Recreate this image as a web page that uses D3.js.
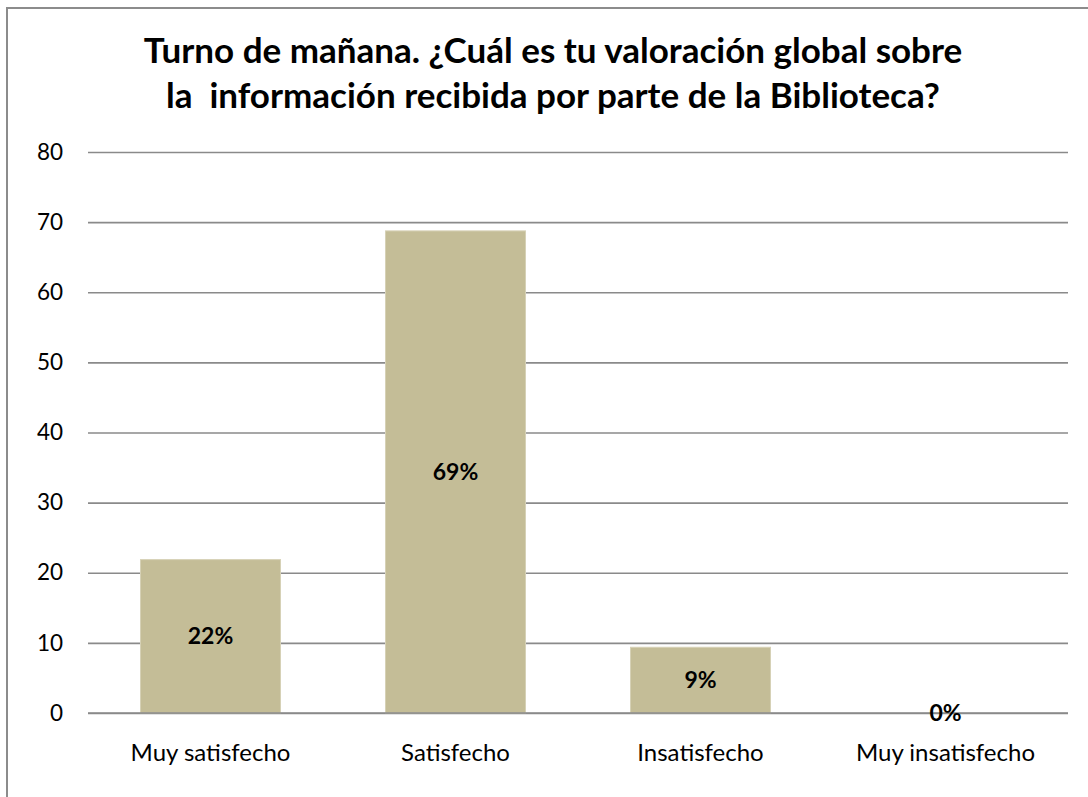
<!DOCTYPE html>
<html>
<head>
<meta charset="utf-8">
<script src="https://cdn.jsdelivr.net/npm/d3@7"></script>
<style>
  html, body { margin: 0; padding: 0; background: #fff; }
  svg { display: block; }
</style>
</head>
<body>
<svg id="chart" width="1088" height="797"></svg>
<script>
// Survey answers (percentage of respondents per option)
const categories = ["Muy satisfecho", "Satisfecho", "Insatisfecho", "Muy insatisfecho"];
const values = [21.875, 68.75, 9.375, 0];
const valueLabels = ["22%", "69%", "9%", "0%"];
const yTicks = [0, 10, 20, 30, 40, 50, 60, 70, 80];
const titleLines = [
  "Turno de mañana. ¿Cuál es tu valoración global sobre",
  "la  información recibida por parte de la Biblioteca?"
];

const svg = d3.select("#chart");
const font = "Lato, 'Open Sans', sans-serif";

// Outer frame of the chart area
svg.append("rect")
  .attr("x", 7).attr("y", 8)
  .attr("width", 1200).attr("height", 1000)
  .attr("fill", "#fff")
  .attr("stroke", "#8c8c8c")
  .attr("stroke-width", 2);

const plot = { left: 88, right: 1068, top: 152, bottom: 713 };

const x = d3.scaleBand()
  .domain(categories)
  .range([plot.left, plot.right])
  .paddingInner(0.4286)
  .paddingOuter(0.2143);

const y = d3.scaleLinear()
  .domain([0, 80])
  .range([plot.bottom, plot.top]);

// Title
const title = svg.append("g")
  .attr("font-family", font)
  .attr("font-weight", "bold")
  .attr("font-size", 35)
  .attr("fill", "#000")
  .attr("text-anchor", "middle");
title.selectAll("text")
  .data(titleLines)
  .join("text")
  .attr("x", 553)
  .attr("y", (d, i) => 63 + i * 45)
  .attr("xml:space", "preserve")
  .style("white-space", "pre")
  .text(d => d);

// Horizontal gridlines via the y axis
const yAxis = d3.axisLeft(y)
  .tickValues(yTicks)
  .tickSize(-(plot.right - plot.left))
  .tickPadding(25)
  .tickFormat(d3.format("d"));

const gy = svg.append("g")
  .attr("transform", `translate(${plot.left},0)`)
  .call(yAxis);
gy.select(".domain").remove();
gy.selectAll(".tick line")
  .attr("stroke", "#8a8a8a")
  .attr("stroke-width", 1.6);
gy.selectAll(".tick text")
  .attr("font-family", font)
  .attr("font-size", 22.5)
  .attr("fill", "#000");

// Bars
svg.append("g")
  .selectAll("rect")
  .data(categories)
  .join("rect")
  .attr("x", d => x(d))
  .attr("width", x.bandwidth())
  .attr("y", (d, i) => y(values[i]))
  .attr("height", (d, i) => y(0) - y(values[i]))
  .attr("fill", "#C4BD97")
  .attr("stroke", "#d6d1b6")
  .attr("stroke-width", 1);

// Baseline drawn over the bars
svg.append("line")
  .attr("x1", plot.left).attr("x2", plot.right)
  .attr("y1", y(0)).attr("y2", y(0))
  .attr("stroke", "#8a8a8a")
  .attr("stroke-width", 1.6);

// Value labels centred in each bar
svg.append("g")
  .selectAll("text")
  .data(categories)
  .join("text")
  .attr("x", d => x(d) + x.bandwidth() / 2)
  .attr("y", (d, i) => (y(values[i]) + y(0)) / 2)
  .attr("dy", "0.35em")
  .attr("text-anchor", "middle")
  .attr("font-family", font)
  .attr("font-weight", "bold")
  .attr("font-size", 23)
  .attr("fill", "#000")
  .text((d, i) => valueLabels[i]);

// Category labels
const xAxis = d3.axisBottom(x).tickSize(0).tickPadding(31);
const gx = svg.append("g")
  .attr("transform", `translate(0,${plot.bottom})`)
  .call(xAxis);
gx.select(".domain").remove();
gx.selectAll(".tick text")
  .attr("font-family", font)
  .attr("font-size", 24)
  .attr("fill", "#000");
</script>
</body>
</html>
